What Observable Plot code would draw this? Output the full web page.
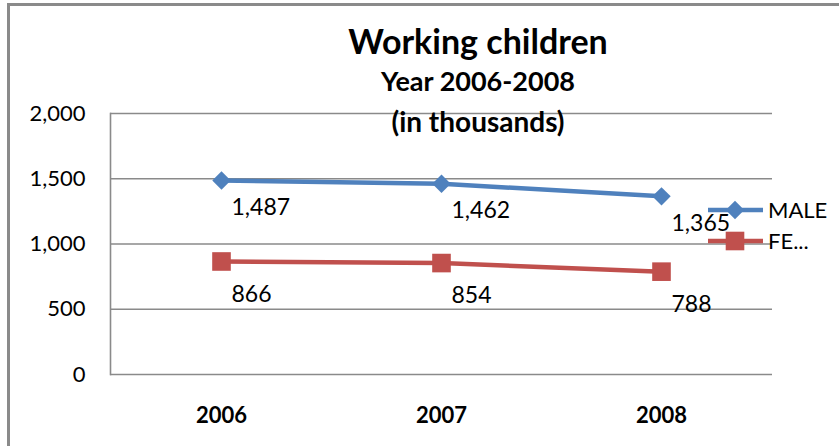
<!DOCTYPE html>
<html>
<head>
<meta charset="utf-8">
<script src="https://cdn.jsdelivr.net/npm/d3@7"></script>
<script src="https://cdn.jsdelivr.net/npm/@observablehq/plot@0.6"></script>
<style>
  html, body { margin: 0; padding: 0; background: #fff; }
  #wrap { position: relative; width: 839px; height: 446px; overflow: hidden; font-family: Lato, "Open Sans", sans-serif; }
  #border { position: absolute; left: 7px; top: 3px; width: 900px; height: 600px; border-top: 3px solid #8a8a8a; border-left: 3px solid #8a8a8a; box-sizing: border-box; }
  .t { position: absolute; left: 478px; transform: translate(-50%, -50%); font-weight: bold; white-space: nowrap; color: #000; }
  #legend { position: absolute; left: 706px; top: 196px; }
</style>
</head>
<body>
<div id="wrap">
  <div id="border"></div>
  <div id="chart"></div>
  <div class="t" style="top:40px;font-size:34px;">Working children</div>
  <div class="t" style="top:80px;font-size:27px;">Year 2006-2008</div>
  <div class="t" style="top:121px;font-size:28px;">(in thousands)</div>
  <div id="legend"></div>
</div>
<script>
const years = ["2006", "2007", "2008"];
const seriesNames = ["MALE", "FEMALE"];
const legendLabels = ["MALE", "FE..."];
const maleValues = [1487, 1462, 1365];
const femaleValues = [866, 854, 788];
const yTicks = [0, 500, 1000, 1500, 2000];
const colors = ["#4F81BD", "#C0504D"];

const male = years.map((y, i) => ({year: y, value: maleValues[i], series: "MALE"}));
const female = years.map((y, i) => ({year: y, value: femaleValues[i], series: "FEMALE"}));
const fmt = d3.format(",");

const chart = Plot.plot({
  width: 839,
  height: 446,
  marginLeft: 110,
  marginRight: 67,
  marginTop: 113,
  marginBottom: 72,
  style: {fontFamily: "Lato, 'Open Sans', sans-serif", background: "transparent", overflow: "visible"},
  x: {type: "band", domain: years, padding: 0, label: null},
  y: {domain: [0, 2000], label: null},
  marks: [
    Plot.ruleY(yTicks, {stroke: "#8a8a8a", strokeWidth: 1.6, strokeOpacity: 1}),
    Plot.frame({anchor: "left", stroke: "#8a8a8a", strokeWidth: 1.6}),
    Plot.axisY({ticks: yTicks, tickSize: 0, tickPadding: 25, tickFormat: fmt, fontSize: 22, fill: "#000", stroke: null, label: null}),
    Plot.axisX({tickSize: 0, tickPadding: 33, fontSize: 22, fontWeight: "bold", fill: "#000", label: null}),
    Plot.line(male, {x: "year", y: "value", stroke: colors[0], strokeWidth: 4.5}),
    Plot.line(female, {x: "year", y: "value", stroke: colors[1], strokeWidth: 4.5}),
    Plot.dot(male, {x: "year", y: "value", symbol: "diamond2", r: 8.3, fill: colors[0], stroke: null}),
    Plot.dot(female, {x: "year", y: "value", symbol: "square", r: 10.5, fill: colors[1], stroke: null}),
    Plot.text(male, {x: "year", y: "value", text: d => fmt(d.value), textAnchor: "start", dx: 10, dy: 27, fontSize: 23, fill: "#000"}),
    Plot.text(female, {x: "year", y: "value", text: d => fmt(d.value), textAnchor: "start", dx: 10, dy: 33, fontSize: 23, fill: "#000"})
  ]
});
document.getElementById("chart").appendChild(chart);

// legend
const lg = d3.select("#legend").append("svg").attr("width", 133).attr("height", 60);
seriesNames.forEach((s, i) => {
  const y = 14 + i * 31;
  lg.append("line").attr("x1", 2).attr("x2", 57).attr("y1", y).attr("y2", y)
    .attr("stroke", colors[i]).attr("stroke-width", 4.5);
  const sym = i === 0 ? d3.symbolDiamond2 : d3.symbolSquare;
  const size = Math.PI * (i === 0 ? 8.3 : 10.5) ** 2;
  lg.append("path").attr("d", d3.symbol(sym, size)()).attr("transform", `translate(29,${y})`).attr("fill", colors[i]);
  lg.append("text").attr("x", 62).attr("y", y).attr("dy", "0.36em").attr("font-size", 22)
    .attr("font-family", "Lato, 'Open Sans', sans-serif").text(legendLabels[i]);
});
</script>
</body>
</html>
